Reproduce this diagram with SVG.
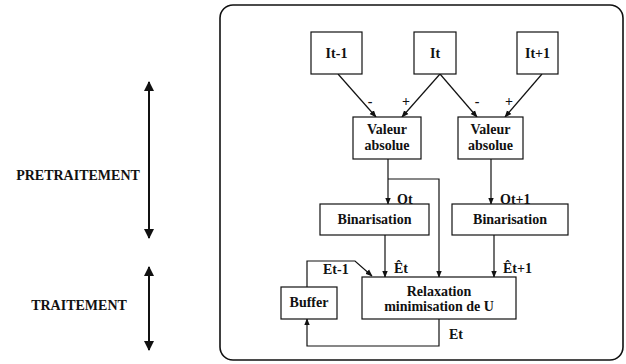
<svg xmlns="http://www.w3.org/2000/svg" width="626" height="364" viewBox="0 0 626 364">
<defs>
<style>
text{font-family:'Liberation Serif','Times New Roman',Times,serif;font-weight:bold;font-size:14px;fill:#111}
.c{text-anchor:middle}
.box{fill:#fff;stroke:#111;stroke-width:1.2}
.ln{fill:none;stroke:#111;stroke-width:1.2}
.big{fill:none;stroke:#111;stroke-width:2}
</style>
<marker id="ah" viewBox="0 0 10 10" refX="9" refY="5" markerWidth="6" markerHeight="6" orient="auto"><path d="M0,1 L10,5 L0,9 z" fill="#111"/></marker>
<marker id="bh" viewBox="0 0 10 10" refX="9" refY="5" markerWidth="5" markerHeight="5" orient="auto-start-reverse"><path d="M0,0 L10,5 L0,10 z" fill="#111"/></marker>
</defs>
<rect x="0" y="0" width="626" height="364" fill="#fff"/>
<rect x="220" y="5" width="403" height="355" rx="13" ry="13" fill="none" stroke="#111" stroke-width="1.6"/>

<g font-family="Liberation Serif, Times New Roman, serif">
<g id="side">
<text x="78" y="180" class="c">PRETRAITEMENT</text>
<line x1="149" y1="82" x2="149" y2="238" class="big" marker-start="url(#bh)" marker-end="url(#bh)"/>
<text x="79" y="310" class="c">TRAITEMENT</text>
<line x1="149" y1="267" x2="149" y2="350" class="big" marker-start="url(#bh)" marker-end="url(#bh)"/>
</g>

<g id="connectors">
<line x1="338" y1="74" x2="376" y2="117" class="ln" marker-end="url(#ah)"/>
<line x1="440" y1="74" x2="402" y2="117" class="ln" marker-end="url(#ah)"/>
<line x1="440" y1="74" x2="477" y2="117" class="ln" marker-end="url(#ah)"/>
<line x1="542" y1="74" x2="505" y2="117" class="ln" marker-end="url(#ah)"/>
<line x1="388" y1="159" x2="388" y2="204" class="ln" marker-end="url(#ah)"/>
<polyline points="388,179 439,179 439,277" class="ln" marker-end="url(#ah)"/>
<line x1="491" y1="159" x2="491" y2="204" class="ln" marker-end="url(#ah)"/>
<line x1="385" y1="235" x2="385" y2="277" class="ln" marker-end="url(#ah)"/>
<line x1="494" y1="235" x2="494" y2="277" class="ln" marker-end="url(#ah)"/>
<polyline points="307,287 307,261 355,261 372,276" class="ln" marker-end="url(#ah)"/>
<polyline points="439,319 439,346 307,346 307,319" class="ln" marker-end="url(#ah)"/>
<text x="370" y="106" class="c" font-size="16">-</text>
<text x="406" y="106" class="c">+</text>
<text x="477" y="106" class="c" font-size="16">-</text>
<text x="509" y="106" class="c">+</text>
<text x="397" y="204">Ot</text>
<text x="500" y="204">Ot+1</text>
<text x="394" y="273">Êt</text>
<text x="503" y="273">Êt+1</text>
<text x="323" y="274">Et-1</text>
<text x="449" y="339">Et</text>
</g>

<g id="n-it1"><rect x="311" y="32" width="51" height="42" class="box"/><text x="336.5" y="58" class="c">It-1</text></g>
<g id="n-it"><rect x="414" y="32" width="42" height="42" class="box"/><text x="435" y="58" class="c">It</text></g>
<g id="n-itp1"><rect x="517" y="32" width="41" height="42" class="box"/><text x="537.5" y="58" class="c">It+1</text></g>
<g id="n-val1"><rect x="353" y="117" width="68" height="42" class="box"/><text x="387" y="134" class="c">Valeur</text><text x="387" y="150" class="c">absolue</text></g>
<g id="n-val2"><rect x="458" y="117" width="65" height="42" class="box"/><text x="490.5" y="134" class="c">Valeur</text><text x="490.5" y="150" class="c">absolue</text></g>
<g id="n-bin1"><rect x="320" y="204" width="109" height="31" class="box"/><text x="374.5" y="224" class="c">Binarisation</text></g>
<g id="n-bin2"><rect x="452" y="204" width="116" height="31" class="box"/><text x="510" y="224" class="c">Binarisation</text></g>
<g id="n-relax"><rect x="362" y="277" width="154" height="42" class="box"/><text x="439" y="296" class="c">Relaxation</text><text x="439" y="311" class="c">minimisation de U</text></g>
<g id="n-buffer"><rect x="281" y="287" width="56" height="32" class="box"/><text x="309" y="307" class="c">Buffer</text></g>
</g>
</svg>
